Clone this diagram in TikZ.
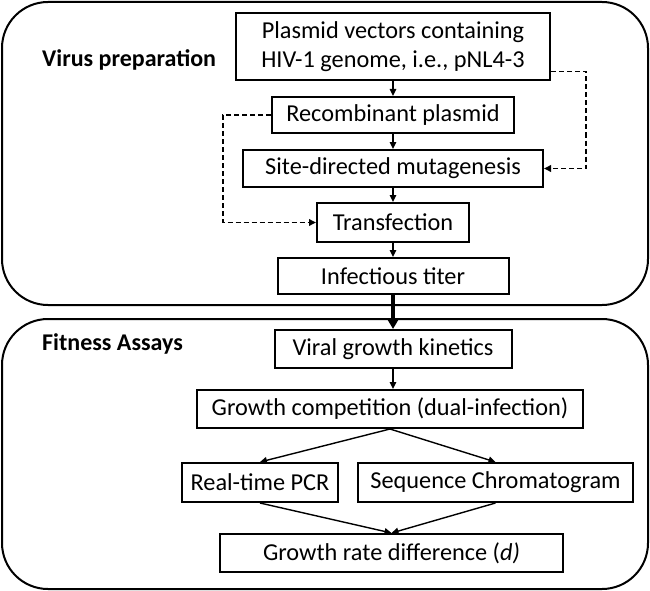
\documentclass[tikz,border=0pt]{standalone}
\usepackage{fontspec}
\setmainfont{Carlito}
\usetikzlibrary{arrows.meta}
\begin{document}
\begin{tikzpicture}[x=1pt,y=1pt,
  stepbox/.style={draw,line width=2pt,inner sep=0pt,font=\fontsize{24.3}{29}\selectfont,align=center},
  panel/.style={draw,line width=2pt,rounded corners=46pt},
  lab/.style={font=\fontsize{24}{28}\selectfont\bfseries,anchor=base west,inner sep=0pt},
  arr/.style={line width=1.4pt,-{Triangle[length=7pt,width=6.5pt]}},
  darr/.style={line width=1.9pt,dash pattern=on 5pt off 3pt,-{Triangle[length=7pt,width=6.5pt]}},
  thick arr/.style={line width=3.4pt,-{Triangle[length=10pt,width=11pt]}}]
\useasboundingbox (0,0) rectangle (650,-591);
% panels
\draw[panel] (2,-2) rectangle (648,-305);
\draw[panel] (2,-319) rectangle (648,-589);
\node[lab] (vp) at (42,-67) {Virus preparation};
\node[lab] (fa) at (42,-350) {Fitness Assays};
% nodes
\node[stepbox,minimum width=314pt,minimum height=67pt] (plas) at (393,-46.5) {Plasmid vectors containing\\HIV-1 genome, i.e., pNL4-3};
\node[stepbox,minimum width=242pt,minimum height=36pt] (rec) at (393,-115) {Recombinant plasmid};
\node[stepbox,minimum width=300pt,minimum height=37pt] (site) at (393,-168.5) {Site-directed mutagenesis};
\node[stepbox,minimum width=152pt,minimum height=39pt] (trans) at (393,-222.5) {Transfection};
\node[stepbox,minimum width=231pt,minimum height=36pt] (titer) at (393,-276) {Infectious titer};
\node[stepbox,minimum width=237pt,minimum height=38pt] (viral) at (393,-349) {Viral growth kinetics};
\node[stepbox,minimum width=386pt,minimum height=38pt] (comp) at (390,-409) {Growth competition (dual-infection)};
\node[stepbox,minimum width=156pt,minimum height=39pt] (pcr) at (260,-482.5) {Real-time PCR};
\node[stepbox,minimum width=275pt,minimum height=39pt] (seq) at (495.5,-482.5) {Sequence Chromatogram};
\node[stepbox,minimum width=343pt,minimum height=38pt] (grd) at (391.5,-553) {Growth rate difference (\textit{d)}};
% connectors
\draw[arr] (plas.south) -- (rec.north);
\draw[arr] (rec.south) -- (site.north);
\draw[arr] (site.south) -- (trans.north);
\draw[arr] (trans.south) -- (titer.north);
\draw[thick arr] (titer.south) -- (viral.north);
\draw[arr] (viral.south) -- (viral.south |- comp.north);
\draw[arr] (comp.south) -- (pcr.north);
\draw[arr] (comp.south) -- (seq.north);
\draw[arr] (pcr.south) -- (grd.north);
\draw[arr] (seq.south) -- (grd.north);
\draw[darr] (rec.west) -- ++(-48,0) |- (trans.west);
\draw[darr] ([yshift=9.5pt]plas.south east) -- ++(35,0) |- (site.east);
\end{tikzpicture}
\end{document}
